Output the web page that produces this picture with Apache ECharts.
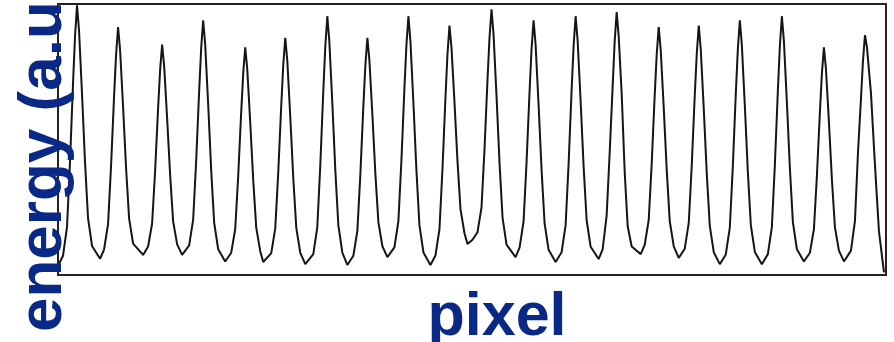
<!DOCTYPE html>
<html>
<head>
<meta charset="utf-8">
<script src="https://cdn.jsdelivr.net/npm/echarts@6/dist/echarts.min.js"></script>
<style>
  html, body { margin: 0; padding: 0; background: #fff; }
  #chart { width: 894px; height: 342px; }
</style>
</head>
<body>
<div id="chart"></div>
<script>
// pixel position along the detector (relative to left edge of the box)
const pixel = [
  0, 5, 9, 12, 15, 17, 19, 21, 24, 27, 30, 34,
  42, 46, 50, 53, 56, 58, 60, 62, 65, 68, 71, 75,
  85, 90, 94, 97, 100, 102, 104, 106, 109, 112, 115, 119,
  124, 131, 135, 138, 141, 143, 145, 147, 150, 153, 156, 160,
  167, 173, 177, 180, 183, 185, 187, 189, 192, 195, 198, 202,
  205, 213, 217, 220, 223, 225, 227, 229, 232, 235, 238, 242,
  247, 255, 259, 262, 265, 267, 269, 271, 274, 277, 280, 284,
  289, 295, 299, 302, 305, 307, 309, 311, 314, 317, 320, 324,
  329, 336, 340, 343, 346, 348, 350, 352, 355, 358, 361, 365,
  372, 377, 381, 384, 387, 389, 391, 393, 396, 399, 402, 406,
  409, 414, 419, 423, 426, 429, 431, 433, 435, 438, 441, 444, 448,
  457, 461, 465, 468, 471, 473, 475, 477, 480, 483, 486, 490,
  497, 503, 507, 510, 513, 515, 517, 519, 522, 525, 528, 532,
  540, 544, 548, 551, 554, 556, 558, 560, 563, 566, 569, 573,
  582, 586, 590, 593, 596, 598, 600, 602, 605, 608, 611, 615,
  620, 626, 630, 633, 636, 638, 640, 642, 645, 648, 651, 655,
  661, 667, 671, 674, 677, 679, 681, 683, 686, 689, 692, 696,
  703, 709, 713, 716, 719, 721, 723, 725, 728, 731, 734, 738,
  745, 751, 755, 758, 761, 763, 765, 767, 770, 773, 776, 780,
  785, 792, 796, 799, 802, 804, 806, 808, 812, 815, 818, 820, 823, 825
];

// energy (a.u., box bottom = 0, box top = 100)
const energy = [
  3.3, 7.1, 17.7, 41.8, 70.6, 88.0, 99.5, 90.2, 66.8, 41.5, 21.0, 10.7,
  6.0, 9.4, 18.8, 40.2, 65.9, 81.2, 91.5, 83.1, 62.1, 39.4, 20.9, 11.6,
  7.4, 10.5, 19.0, 38.4, 61.7, 75.7, 85.0, 77.2, 57.8, 36.9, 19.8, 11.3,
  7.4, 10.9, 20.4, 42.0, 68.0, 83.6, 94.0, 85.1, 62.9, 38.8, 19.2, 9.5,
  5.0, 8.2, 16.9, 36.6, 60.3, 74.5, 84.0, 76.1, 56.3, 34.9, 17.5, 8.8,
  4.8, 8.1, 17.2, 37.9, 62.7, 77.6, 87.5, 79.2, 58.3, 35.7, 17.4, 8.2,
  4.0, 7.7, 17.7, 40.6, 68.1, 84.5, 95.5, 86.3, 63.4, 38.6, 18.4, 8.3,
  3.7, 7.1, 16.3, 37.2, 62.4, 77.4, 87.5, 79.4, 59.2, 37.3, 19.5, 10.6,
  6.6, 10.2, 19.9, 42.2, 68.8, 84.8, 95.5, 86.3, 63.4, 38.6, 18.4, 8.3,
  3.7, 7.2, 16.9, 39.0, 65.5, 81.4, 92.0, 83.9, 63.8, 42.0, 24.3, 15.4,
  11.4, 13.0, 15.8, 24.9, 46.4, 72.2, 87.7, 98.0, 88.9, 66.0, 41.3, 21.2, 11.2,
  6.6, 10.1, 19.7, 41.6, 67.8, 83.5, 94.0, 85.1, 62.8, 38.7, 19.1, 9.3,
  4.8, 8.4, 18.4, 41.1, 68.3, 84.6, 95.5, 86.5, 64.1, 39.9, 20.2, 10.4,
  5.9, 9.5, 22.0, 45.0, 69.7, 86.1, 97.0, 88.1, 67.0, 38.0, 18.0, 10.5,
  7.7, 11.1, 20.3, 41.2, 66.4, 81.4, 91.5, 83.0, 61.7, 38.7, 19.9, 10.6,
  6.3, 9.7, 19.2, 40.6, 66.3, 81.7, 92.0, 83.2, 61.2, 37.4, 18.1, 8.4,
  4.0, 7.6, 17.5, 40.0, 67.0, 83.2, 94.0, 85.0, 62.5, 38.2, 18.4, 8.5,
  4.0, 7.7, 17.7, 40.6, 68.1, 84.5, 95.5, 86.5, 63.8, 39.4, 19.5, 9.5,
  5.0, 8.2, 16.9, 36.6, 60.3, 74.5, 84.0, 76.1, 56.4, 35.0, 17.6, 9.0,
  5.0, 9.0, 20.0, 45.0, 65.0, 79.0, 88.5, 84.0, 67.0, 47.0, 28.0, 16.0, 7.0, 1.0
];

const xLabel = "pixel";
const yLabel = "energy (a.u.)";
const labelColor = "#0a2885";

const chart = echarts.init(document.getElementById("chart"), null, { renderer: "canvas" });

chart.setOption({
  backgroundColor: "#fff",
  animation: false,
  grid: {
    left: 58, right: 8, top: 4, bottom: 67,
    show: true, borderColor: "#222", borderWidth: 2, backgroundColor: "transparent"
  },
  xAxis: {
    type: "value", min: 0, max: 827,
    axisLine: { show: false }, axisTick: { show: false },
    axisLabel: { show: false }, splitLine: { show: false }
  },
  yAxis: {
    type: "value", min: 0, max: 100,
    axisLine: { show: false }, axisTick: { show: false },
    axisLabel: { show: false }, splitLine: { show: false }
  },
  series: [{
    type: "line",
    data: pixel.map((p, i) => [p, energy[i]]),
    showSymbol: false,
    smooth: false,
    clip: true,
    lineStyle: { color: "#151515", width: 2 }
  }],
  graphic: [
    {
      type: "text", z: 100,
      x: 43.5, y: 332, rotation: Math.PI / 2,
      style: {
        text: yLabel, fill: labelColor,
        font: "bold 62px 'Liberation Sans', Arial, sans-serif",
        align: "left", verticalAlign: "middle"
      }
    },
    {
      type: "text", z: 100,
      x: 497, y: 318,
      style: {
        text: xLabel, fill: labelColor,
        font: "bold 61px 'Liberation Sans', Arial, sans-serif",
        align: "center", verticalAlign: "middle"
      }
    }
  ]
});
</script>
</body>
</html>
